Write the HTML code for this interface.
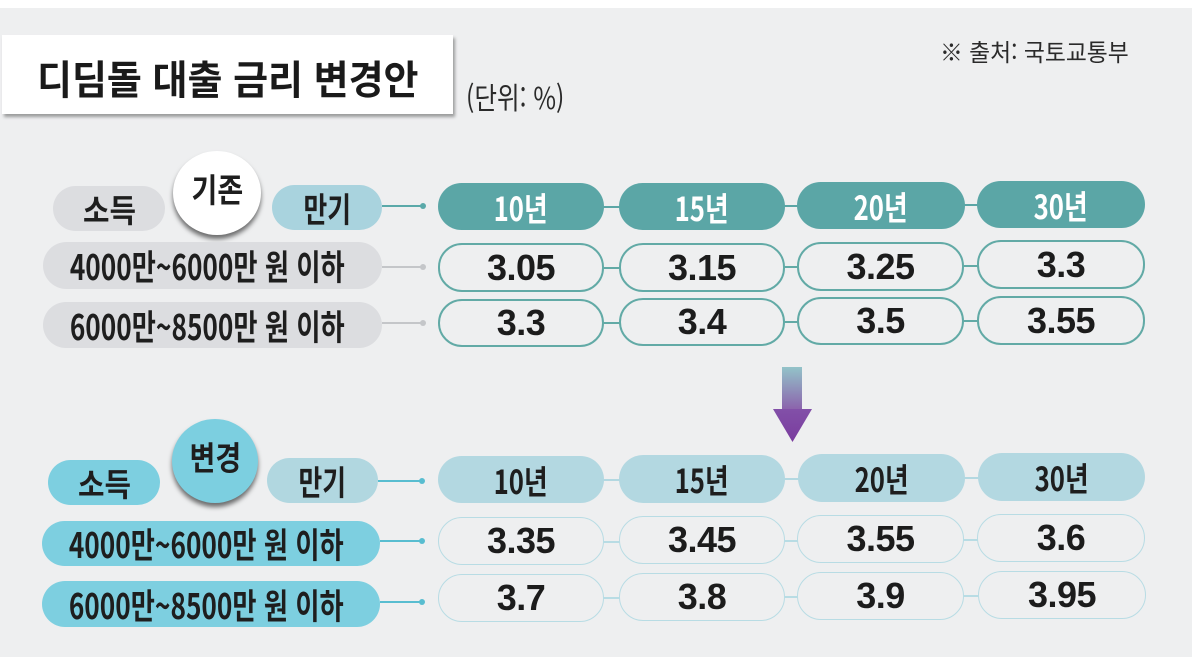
<!DOCTYPE html>
<html lang="ko">
<head>
<meta charset="utf-8">
<style>
  html,body{margin:0;padding:0;}
  body{width:1203px;height:665px;background:#ffffff;position:relative;overflow:hidden;
       font-family:"Liberation Sans","Noto Sans CJK KR",sans-serif;}
  .bg{position:absolute;left:0;top:8px;width:1192px;height:649px;background:#eeeff0;}
  .abs{position:absolute;}
  .pill{position:absolute;border-radius:24px;display:flex;align-items:center;justify-content:center;box-sizing:border-box;}
  .kr{font-family:"Noto Sans CJK KR","Liberation Sans",sans-serif;font-weight:700;color:#1e1e1e;white-space:nowrap;display:inline-block;}
  .cond{transform:scaleX(0.78);}
  .num{font-family:"Liberation Sans",sans-serif;font-weight:700;font-size:36px;color:#1c1c1c;letter-spacing:-0.5px;}
  .line{position:absolute;height:2px;}
  .dot{position:absolute;width:6px;height:6px;border-radius:50%;}
</style>
</head>
<body>
<div class="bg"></div>

<!-- Title -->
<div class="abs" style="left:2px;top:35px;width:451px;height:79px;background:#ffffff;box-shadow:2px 3px 3px rgba(0,0,0,0.35);"></div>
<div class="abs kr" style="left:37px;top:49px;font-size:40px;line-height:56px;color:#1a1a1a;transform:scaleX(0.95);transform-origin:left center;">디딤돌 대출 금리 변경안</div>
<div class="abs kr" style="left:466px;top:78px;font-size:30px;line-height:36px;font-weight:400;color:#2a2a2a;transform:scaleX(0.82);transform-origin:left center;">(단위: %)</div>
<div class="abs kr" style="left:940px;top:34px;font-size:24px;line-height:34px;font-weight:400;color:#2a2a2a;transform:scaleX(0.95);transform-origin:left center;">※ 출처: 국토교통부</div>

<!-- ============ TOP SECTION ============ -->
<div class="pill" style="left:53px;top:186px;width:112px;height:45px;background:#dcdde0;"><span class="kr" style="font-size:32px;transform:scaleX(0.9);">소득</span></div>
<div class="abs" style="left:173px;top:151px;width:88px;height:84px;border-radius:50%;background:#ffffff;box-shadow:0 4px 5px rgba(0,0,0,0.55);display:flex;align-items:center;justify-content:center;"><span class="kr" style="font-size:33px;margin-top:-10px;transform:scaleX(0.85);">기존</span></div>
<div class="pill" style="left:272px;top:185px;width:110px;height:45px;background:#a9d3de;"><span class="kr" style="font-size:34px;transform:scaleX(0.76);">만기</span></div>
<div class="line" style="left:382px;top:205px;width:41px;background:#5aa9a9;height:1.5px;"></div>
<div class="dot" style="left:420px;top:203px;background:#5aa9a9;"></div>

<div class="pill" style="left:438px;top:183px;width:166px;height:47px;background:#5ba6a6;"><span class="kr cond" style="font-size:33px;color:#ffffff;">10년</span></div>
<div class="pill" style="left:619px;top:183px;width:166px;height:47px;background:#5ba6a6;"><span class="kr cond" style="font-size:33px;color:#ffffff;">15년</span></div>
<div class="pill" style="left:797px;top:182px;width:168px;height:47px;background:#5ba6a6;"><span class="kr cond" style="font-size:33px;color:#ffffff;">20년</span></div>
<div class="pill" style="left:977px;top:181px;width:168px;height:47px;background:#5ba6a6;"><span class="kr cond" style="font-size:33px;color:#ffffff;">30년</span></div>
<div class="line" style="left:603px;top:206px;width:17px;background:#5ba6a6;"></div>
<div class="line" style="left:784px;top:205px;width:14px;background:#5ba6a6;"></div>
<div class="line" style="left:964px;top:204px;width:14px;background:#5ba6a6;"></div>

<!-- row 2 top -->
<div class="pill" style="left:43px;top:242px;width:339px;height:47px;background:#dcdde0;"><span class="kr" style="font-size:35px;transform:scaleX(0.75);margin-left:-10px;">4000만~6000만 원 이하</span></div>
<div class="line" style="left:382px;top:266px;width:41px;background:#c4c6c9;height:1.5px;"></div>
<div class="dot" style="left:420px;top:264px;background:#c4c6c9;"></div>
<div class="pill" style="left:438px;top:243px;width:166px;height:49px;border:2px solid #62aaa6;"><span class="num">3.05</span></div>
<div class="pill" style="left:619px;top:243px;width:166px;height:49px;border:2px solid #62aaa6;"><span class="num">3.15</span></div>
<div class="pill" style="left:797px;top:242px;width:167px;height:49px;border:2px solid #62aaa6;"><span class="num">3.25</span></div>
<div class="pill" style="left:977px;top:240px;width:168px;height:49px;border:2px solid #62aaa6;"><span class="num">3.3</span></div>
<div class="line" style="left:603px;top:267px;width:17px;background:#62aaa6;"></div>
<div class="line" style="left:784px;top:266px;width:14px;background:#62aaa6;"></div>
<div class="line" style="left:963px;top:265px;width:15px;background:#62aaa6;"></div>

<!-- row 3 top -->
<div class="pill" style="left:43px;top:302px;width:339px;height:46px;background:#dcdde0;"><span class="kr" style="font-size:35px;transform:scaleX(0.75);margin-left:-10px;">6000만~8500만 원 이하</span></div>
<div class="line" style="left:382px;top:322px;width:41px;background:#c4c6c9;height:1.5px;"></div>
<div class="dot" style="left:420px;top:320px;background:#c4c6c9;"></div>
<div class="pill" style="left:438px;top:299px;width:166px;height:48px;border:2px solid #62aaa6;"><span class="num">3.3</span></div>
<div class="pill" style="left:619px;top:298px;width:166px;height:48px;border:2px solid #62aaa6;"><span class="num">3.4</span></div>
<div class="pill" style="left:797px;top:297px;width:167px;height:48px;border:2px solid #62aaa6;"><span class="num">3.5</span></div>
<div class="pill" style="left:977px;top:296px;width:168px;height:49px;border:2px solid #62aaa6;"><span class="num">3.55</span></div>
<div class="line" style="left:603px;top:322px;width:17px;background:#62aaa6;"></div>
<div class="line" style="left:784px;top:321px;width:14px;background:#62aaa6;"></div>
<div class="line" style="left:963px;top:320px;width:15px;background:#62aaa6;"></div>

<!-- Arrow -->
<svg class="abs" style="left:770px;top:365px;" width="46" height="80" viewBox="0 0 46 80">
  <defs>
    <linearGradient id="sh" x1="0" y1="0" x2="0" y2="1">
      <stop offset="0" stop-color="#93c3c9"/>
      <stop offset="1" stop-color="#8b5fab"/>
    </linearGradient>
    <linearGradient id="hd" x1="0" y1="0" x2="0" y2="1">
      <stop offset="0" stop-color="#8250a8"/>
      <stop offset="1" stop-color="#7a3c9e"/>
    </linearGradient>
  </defs>
  <rect x="12" y="2" width="20" height="44" fill="url(#sh)"/>
  <polygon points="3,44 42,44 22.5,77" fill="url(#hd)"/>
</svg>

<!-- ============ BOTTOM SECTION ============ -->
<div class="pill" style="left:48px;top:460px;width:112px;height:45px;background:#7dcfe0;"><span class="kr" style="font-size:32px;transform:scaleX(0.9);">소득</span></div>
<div class="abs" style="left:172px;top:419px;width:86px;height:84px;border-radius:50%;background:#7ccfe0;box-shadow:0 4px 5px rgba(0,0,0,0.55);display:flex;align-items:center;justify-content:center;"><span class="kr" style="font-size:33px;margin-top:-10px;transform:scaleX(0.85);">변경</span></div>
<div class="pill" style="left:267px;top:458px;width:111px;height:45px;background:#b1d7e0;"><span class="kr" style="font-size:34px;transform:scaleX(0.76);">만기</span></div>
<div class="line" style="left:378px;top:480px;width:44px;background:#58bdd0;height:1.5px;"></div>
<div class="dot" style="left:419px;top:478px;background:#58bdd0;"></div>

<div class="pill" style="left:438px;top:456px;width:166px;height:47px;background:#b3d8e1;"><span class="kr cond" style="font-size:33px;">10년</span></div>
<div class="pill" style="left:619px;top:455px;width:166px;height:48px;background:#b3d8e1;"><span class="kr cond" style="font-size:33px;">15년</span></div>
<div class="pill" style="left:798px;top:454px;width:167px;height:48px;background:#b3d8e1;"><span class="kr cond" style="font-size:33px;">20년</span></div>
<div class="pill" style="left:978px;top:453px;width:167px;height:48px;background:#b3d8e1;"><span class="kr cond" style="font-size:33px;">30년</span></div>
<div class="line" style="left:603px;top:479px;width:17px;background:#b3d8e1;"></div>
<div class="line" style="left:784px;top:478px;width:15px;background:#b3d8e1;"></div>
<div class="line" style="left:964px;top:477px;width:15px;background:#b3d8e1;"></div>

<!-- row 2 bottom -->
<div class="pill" style="left:42px;top:521px;width:338px;height:45px;background:#7dcfe0;"><span class="kr" style="font-size:35px;transform:scaleX(0.75);margin-left:-10px;">4000만~6000만 원 이하</span></div>
<div class="line" style="left:380px;top:540px;width:42px;background:#58bdd0;height:1.5px;"></div>
<div class="dot" style="left:419px;top:538px;background:#58bdd0;"></div>
<div class="pill" style="left:438px;top:517px;width:166px;height:48px;border:1.5px solid #b8dce4;"><span class="num">3.35</span></div>
<div class="pill" style="left:619px;top:516px;width:166px;height:48px;border:1.5px solid #b8dce4;"><span class="num">3.45</span></div>
<div class="pill" style="left:797px;top:515px;width:167px;height:48px;border:1.5px solid #b8dce4;"><span class="num">3.55</span></div>
<div class="pill" style="left:977px;top:514px;width:168px;height:48px;border:1.5px solid #b8dce4;"><span class="num">3.6</span></div>
<div class="line" style="left:603px;top:541px;width:17px;background:#b8dce4;height:1.5px;"></div>
<div class="line" style="left:784px;top:540px;width:14px;background:#b8dce4;height:1.5px;"></div>
<div class="line" style="left:963px;top:539px;width:15px;background:#b8dce4;height:1.5px;"></div>

<!-- row 3 bottom -->
<div class="pill" style="left:42px;top:581px;width:338px;height:46px;background:#7dcfe0;"><span class="kr" style="font-size:35px;transform:scaleX(0.75);margin-left:-10px;">6000만~8500만 원 이하</span></div>
<div class="line" style="left:380px;top:601px;width:42px;background:#58bdd0;height:1.5px;"></div>
<div class="dot" style="left:419px;top:599px;background:#58bdd0;"></div>
<div class="pill" style="left:438px;top:574px;width:166px;height:48px;border:1.5px solid #b8dce4;"><span class="num">3.7</span></div>
<div class="pill" style="left:619px;top:573px;width:166px;height:48px;border:1.5px solid #b8dce4;"><span class="num">3.8</span></div>
<div class="pill" style="left:797px;top:572px;width:167px;height:48px;border:1.5px solid #b8dce4;"><span class="num">3.9</span></div>
<div class="pill" style="left:978px;top:571px;width:168px;height:48px;border:1.5px solid #b8dce4;"><span class="num">3.95</span></div>
<div class="line" style="left:603px;top:597px;width:17px;background:#b8dce4;height:1.5px;"></div>
<div class="line" style="left:784px;top:596px;width:14px;background:#b8dce4;height:1.5px;"></div>
<div class="line" style="left:963px;top:595px;width:16px;background:#b8dce4;height:1.5px;"></div>

</body>
</html>
